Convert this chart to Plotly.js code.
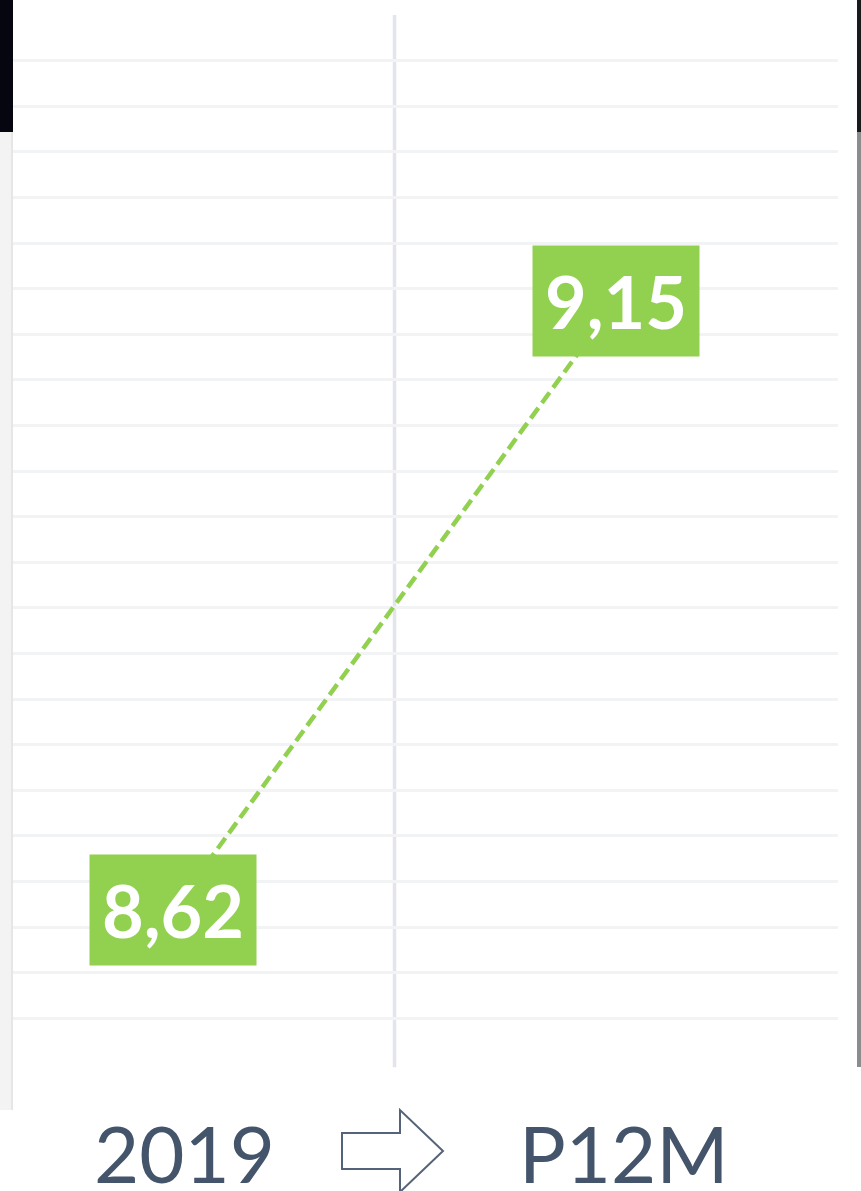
<!DOCTYPE html>
<html>
<head>
<meta charset="utf-8">
<script src="https://cdn.plot.ly/plotly-3.0.1.min.js"></script>
<style>
  html, body { margin: 0; padding: 0; background: #ffffff; }
  #chart { width: 861px; height: 1191px; }
</style>
</head>
<body>
<div id="chart"></div>
<script>
// ---- data ----
const categories = ['2019', 'P12M'];
const values = [8.62, 9.15];
const labelTexts = values.map(v => v.toFixed(2).replace('.', ','));

// ---- styling ----
const green = '#92D050';
const slate = '#44546A';

const trace = {
  type: 'scatter',
  mode: 'lines',
  x: categories,
  y: values,
  line: { color: green, width: 4.5, dash: '13px,6px' },
  hoverinfo: 'skip',
  showlegend: false
};

const yMin = 8.4859, yMax = 9.3991;
const dtick = 0.913 / 23;

// category positions on the axis are their indices
const dataLabels = categories.map((c, i) => ({
  x: i, y: values[i], xref: 'x', yref: 'y',
  text: '<b>' + labelTexts[i] + '</b>',
  showarrow: false,
  xanchor: 'center', yanchor: 'middle',
  bgcolor: green,
  borderpad: 12,
  font: { family: 'Lato, "Open Sans", sans-serif', size: 72, color: '#ffffff' }
}));

const catX = [0.2073, 0.7406];
const bottomLabels = categories.map((c, i) => ({
  x: catX[i], y: -0.085, xref: 'paper', yref: 'paper',
  text: c, showarrow: false,
  xanchor: 'center', yanchor: 'middle',
  font: { family: 'Lato, "Open Sans", sans-serif', size: 78, color: slate }
}));

function px2x(px) { return (px - 13) / 825; }
function px2y(py) { return (1064 - py) / 1049; }
function pathFrom(points) {
  return 'M' + points.map(p => px2x(p[0]).toFixed(5) + ',' + px2y(p[1]).toFixed(5)).join(' L') + ' Z';
}

const shapes = [
  // vertical divider between the two periods
  { type: 'line', xref: 'x', yref: 'paper', x0: 0.5, x1: 0.5, y0: -0.003, y1: 1.0,
    line: { color: '#E2E5EA', width: 3.5 }, layer: 'below' },
  // outline arrow between the period labels
  { type: 'path', xref: 'paper', yref: 'paper',
    path: pathFrom([[342,1133],[400,1133],[400,1110],[443,1151],[400,1192],[400,1169],[342,1169]]),
    line: { color: '#55637A', width: 2 }, fillcolor: '#ffffff' },
  // screenshot edge artifacts
  { type: 'rect', xref: 'paper', yref: 'paper', x0: px2x(0), x1: px2x(13), y0: px2y(132), y1: px2y(0),
    fillcolor: '#05060F', line: { width: 0 } },
  { type: 'rect', xref: 'paper', yref: 'paper', x0: px2x(0), x1: px2x(11), y0: px2y(1110), y1: px2y(132),
    fillcolor: '#F3F3F3', line: { width: 0 } },
  { type: 'rect', xref: 'paper', yref: 'paper', x0: px2x(11), x1: px2x(13), y0: px2y(1110), y1: px2y(132),
    fillcolor: '#E6E6E6', line: { width: 0 } },
  { type: 'rect', xref: 'paper', yref: 'paper', x0: px2x(857), x1: px2x(861), y0: px2y(132), y1: px2y(0),
    fillcolor: '#1A1A1A', line: { width: 0 } },
  { type: 'rect', xref: 'paper', yref: 'paper', x0: px2x(857), x1: px2x(861), y0: px2y(1067), y1: px2y(132),
    fillcolor: '#8C8C8C', line: { width: 0 } }
];

const layout = {
  width: 861, height: 1191,
  margin: { l: 13, r: 23, t: 15, b: 127, pad: 0 },
  paper_bgcolor: '#ffffff',
  plot_bgcolor: '#ffffff',
  xaxis: {
    type: 'category',
    range: [-0.3612, 1.5011],
    showgrid: false, zeroline: false, showline: false,
    showticklabels: false, ticks: ''
  },
  yaxis: {
    range: [yMin, yMax],
    tick0: 8.486, dtick: dtick,
    showgrid: true, gridcolor: '#F2F3F5', gridwidth: 3,
    zeroline: false, showline: false,
    showticklabels: false, ticks: ''
  },
  annotations: dataLabels.concat(bottomLabels),
  shapes: shapes,
  showlegend: false
};

Plotly.newPlot('chart', [trace], layout, { staticPlot: true, displayModeBar: false });
</script>
</body>
</html>
